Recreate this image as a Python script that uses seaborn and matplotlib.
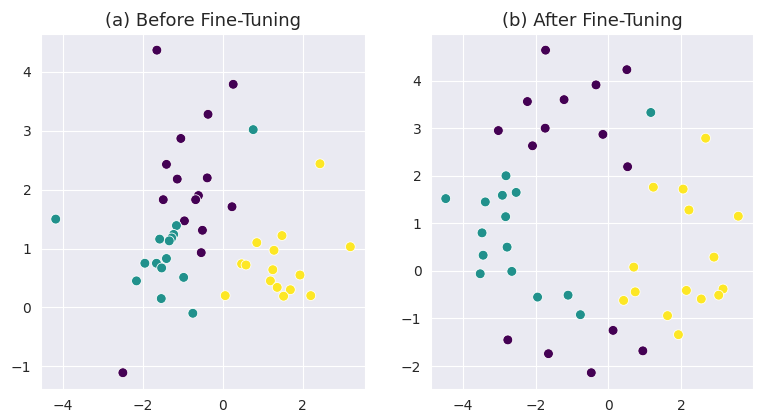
import pandas as pd
import seaborn as sns
import matplotlib.pyplot as plt

# values, 15 points per class
# (a) before fine-tuning
before_x_0 = [-1.65, 0.26, -0.37, -1.05, -1.41, -1.14, -0.39, -0.61, -0.68, -1.49, 0.23, -0.96, -0.51, -0.54, -2.50]
before_y_0 = [4.37, 3.79, 3.28, 2.87, 2.43, 2.18, 2.20, 1.90, 1.83, 1.83, 1.71, 1.47, 1.31, 0.93, -1.11]
before_x_1 = [0.76, -4.18, -1.16, -1.58, -1.23, -1.28, -1.34, -1.95, -1.66, -1.41, -1.53, -2.16, -0.98, -1.54, -0.75]
before_y_1 = [3.02, 1.50, 1.39, 1.16, 1.24, 1.18, 1.13, 0.75, 0.75, 0.83, 0.67, 0.45, 0.51, 0.15, -0.10]
before_x_2 = [2.43, 0.85, 1.48, 1.28, 3.19, 0.47, 0.58, 1.25, 1.93, 1.19, 1.36, 1.69, 1.52, 2.20, 0.06]
before_y_2 = [2.44, 1.10, 1.22, 0.97, 1.03, 0.74, 0.72, 0.64, 0.55, 0.45, 0.34, 0.30, 0.19, 0.20, 0.20]

# (b) after fine-tuning
after_x_0 = [-1.73, 0.51, -0.34, -2.23, -1.22, -3.03, -1.74, -0.15, -2.09, 0.53, 0.13, -2.77, -1.65, 0.95, -0.47]
after_y_0 = [4.64, 4.23, 3.91, 3.56, 3.60, 2.95, 3.00, 2.87, 2.63, 2.19, -1.25, -1.45, -1.74, -1.68, -2.14]
after_x_1 = [1.17, -2.82, -4.48, -2.92, -2.54, -3.39, -2.83, -3.48, -2.79, -3.45, -3.53, -2.66, -1.95, -1.11, -0.77]
after_y_1 = [3.33, 2.00, 1.52, 1.59, 1.65, 1.45, 1.14, 0.80, 0.50, 0.33, -0.06, -0.01, -0.55, -0.51, -0.92]
after_x_2 = [2.68, 1.24, 2.06, 2.22, 3.58, 0.70, 2.91, 0.42, 0.74, 2.15, 2.56, 3.16, 3.04, 1.63, 1.93]
after_y_2 = [2.79, 1.76, 1.72, 1.28, 1.15, 0.08, 0.29, -0.62, -0.44, -0.41, -0.59, -0.38, -0.51, -0.94, -1.34]


def make_df(xs, ys):
    parts = []
    for label, (x, y) in enumerate(zip(xs, ys)):
        parts.append(pd.DataFrame({'x': x, 'y': y, 'label': label}))
    return pd.concat(parts, ignore_index=True)


df_before = make_df([before_x_0, before_x_1, before_x_2], [before_y_0, before_y_1, before_y_2])
df_after = make_df([after_x_0, after_x_1, after_x_2], [after_y_0, after_y_1, after_y_2])

sns.set_style("darkgrid")
fig = plt.figure(figsize=(7.59, 4.15), dpi=100)
ax1 = fig.add_axes([0.054, 0.063, 0.427, 0.855])
ax2 = fig.add_axes([0.568, 0.063, 0.424, 0.855])

sns.scatterplot(data=df_before, x='x', y='y', hue='label', palette='viridis', legend=False, s=50, ax=ax1)
ax1.set_title('(a) Before Fine-Tuning', fontsize=13)

sns.scatterplot(data=df_after, x='x', y='y', hue='label', palette='viridis', legend=False, s=50, ax=ax2)
ax2.set_title('(b) After Fine-Tuning', fontsize=13)

for ax in (ax1, ax2):
    ax.set_xlabel('')
    ax.set_ylabel('')
    ax.tick_params(labelsize=10)

fig.savefig('out.png', dpi=100)
